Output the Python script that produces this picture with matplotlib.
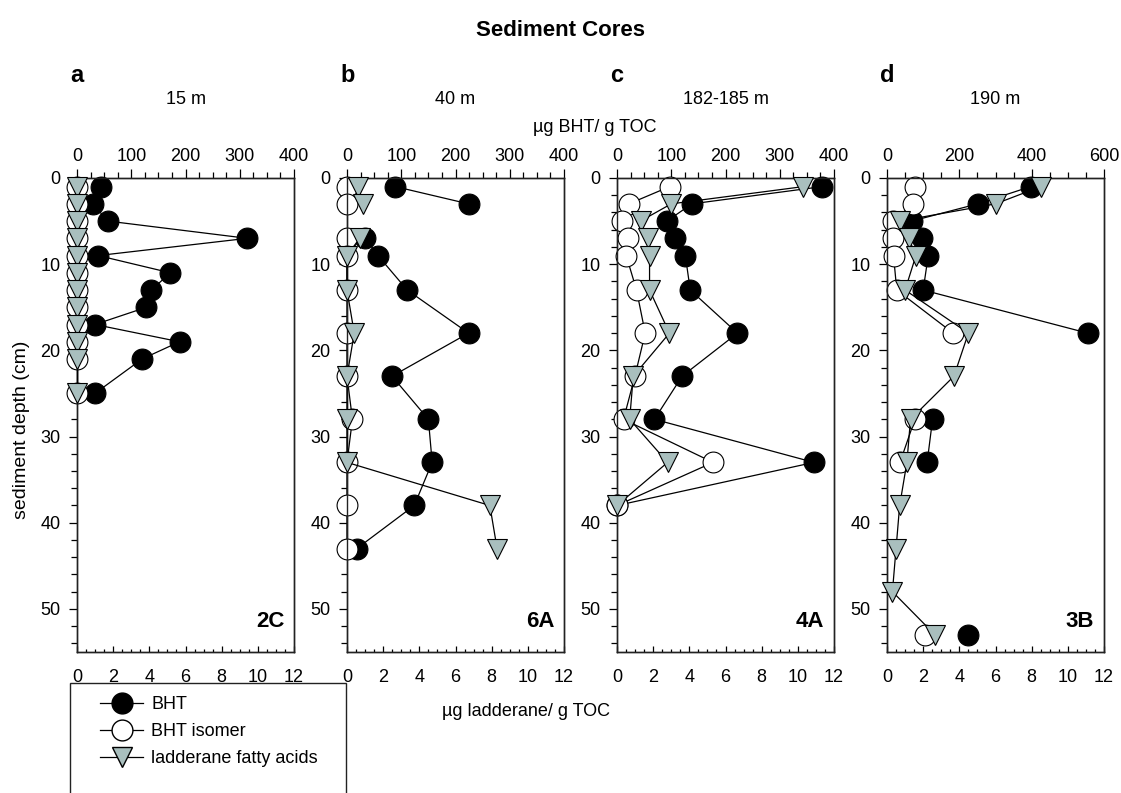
import numpy as np
import matplotlib
matplotlib.use("Agg")
import matplotlib.pyplot as plt
from matplotlib.lines import Line2D
from matplotlib.patches import Rectangle
from matplotlib.ticker import MultipleLocator

plt.rcParams["font.family"] = ["Liberation Sans", "DejaVu Sans"]

nan = np.nan

# ============================================================
# DATA
# ============================================================

panel_letters = ["a", "b", "c", "d"]
water_depths = ["15 m", "40 m", "182-185 m", "190 m"]
core_names = ["2C", "6A", "4A", "3B"]
bht_xmax = [400, 400, 400, 600]

# a - 15 m, core 2C
depth_a = [1, 3, 5, 7, 9, 11, 13, 15, 17, 19, 21, 25]
bht_a = [44, 29, 57, 314, 39, 172, 137, 128, 33, 189, 120, 33]
iso_a = [0, 0, 0, 0, 0, 0, 0, 0, 0, 0, 0, 0]
lad_a = [0, 0, 0, 0, 0, 0, 0, 0, 0, 0, 0, 0]

# b - 40 m, core 6A
depth_b = [1, 3, 5, 7, 9, 13, 18, 23, 28, 33, 38, 43]
bht_b = [89, 224, nan, 34, 57, 111, 224, 83, 150, 157, 124, 18]
iso_b = [0, 0, nan, 0, 0, 0, 0, 0, 10, 0, 0, 0]
lad_b = [0.6, 0.9, nan, 0.7, 0, 0, 0.4, 0, 0, 0, 7.9, 8.3]

# c - 182-185 m, core 4A
depth_c = [1, 3, 5, 7, 9, 13, 18, 23, 28, 33, 38]
bht_c = [378, 138, 92, 107, 126, 135, 222, 120, 69, 363, 0]
iso_c = [97, 22, 9, 21, 17, 36, 52, 33, 12, 177, 0]
lad_c = [10.3, 3.0, 1.3, 1.7, 1.8, 1.8, 2.9, 0.9, 0.7, 2.8, 0]

# d - 190 m, core 3B
depth_d = [1, 3, 5, 7, 9, 13, 18, 23, 28, 33, 38, 43, 48, 53]
bht_d = [397, 251, 68, 96, 114, 100, 555, nan, 126, 111, nan, nan, nan, 224]
iso_d = [77, 72, 16, 16, 18, 27, 183, nan, 77, 36, nan, nan, nan, 105]
lad_d = [8.5, 6.0, 0.7, 1.2, 1.6, 1.0, 4.5, 3.7, 1.3, 1.1, 0.7, 0.5, 0.3, 2.65]

depths = [depth_a, depth_b, depth_c, depth_d]
bht_all = [bht_a, bht_b, bht_c, bht_d]
iso_all = [iso_a, iso_b, iso_c, iso_d]
lad_all = [lad_a, lad_b, lad_c, lad_d]

# ============================================================
# LAYOUT (pixels of the 1121x793 canvas)
# ============================================================

W, H = 1121, 793
AX_LEFTS = [77, 347, 617, 887]
AX_W = 217
AX_TOP = 178
AX_BOT = 652

TRI_COLOR = "#a9bfbe"
MS = 15
LW = 0.9


def fx(px):
    return px / W


def fy(py):
    return 1 - py / H


def draw_panel(fig, i):
    left = AX_LEFTS[i]
    ax = fig.add_axes([fx(left), fy(AX_BOT), AX_W / W, (AX_BOT - AX_TOP) / H])
    ax_l = ax.twiny()

    d = depths[i]
    ax.plot(bht_all[i], d, "-o", color="black", mfc="black", mec="black",
            ms=MS, lw=LW, mew=0.8, clip_on=False, zorder=3)
    ax.plot(iso_all[i], d, "-o", color="black", mfc="white", mec="black",
            ms=MS, lw=LW, mew=0.8, clip_on=False, zorder=4)
    ax_l.plot(lad_all[i], d, "-v", color="black", mfc=TRI_COLOR, mec="black",
              ms=MS, lw=LW, mew=0.8, clip_on=False, zorder=5)

    ax.set_xlim(0, bht_xmax[i])
    ax.set_ylim(55, 0)
    ax_l.set_xlim(0, 12)

    # BHT axis on top
    ax.xaxis.tick_top()
    ax.xaxis.set_label_position("top")
    step = 200 if bht_xmax[i] > 400 else 100
    ax.xaxis.set_major_locator(MultipleLocator(step))
    ax.xaxis.set_minor_locator(MultipleLocator(step / 4))
    ax.tick_params(axis="x", which="major", direction="out", length=6.5,
                   width=0.9, labelsize=13, pad=3)
    ax.tick_params(axis="x", which="minor", direction="out", length=4, width=0.9)

    # depth axis
    ax.yaxis.set_major_locator(MultipleLocator(10))
    ax.yaxis.set_minor_locator(MultipleLocator(2))
    ax.tick_params(axis="y", which="major", direction="out", length=6,
                   width=0.9, labelsize=13, pad=6)
    ax.tick_params(axis="y", which="minor", direction="out", length=4, width=0.9)

    # ladderane axis at bottom
    ax_l.xaxis.tick_bottom()
    ax_l.xaxis.set_label_position("bottom")
    ax_l.xaxis.set_major_locator(MultipleLocator(2))
    ax_l.xaxis.set_minor_locator(MultipleLocator(0.5))
    ax_l.tick_params(axis="x", which="major", direction="in", length=4,
                     width=0.9, labelsize=13, pad=12)
    ax_l.tick_params(axis="x", which="minor", direction="in", length=2.5, width=0.9)

    for a in (ax, ax_l):
        for s in a.spines.values():
            s.set_linewidth(1.0)
            s.set_color("#222222")

    ax.text(0.955, 0.065, core_names[i], transform=ax.transAxes,
            ha="right", va="center", fontsize=16, weight="bold")

    # panel letter + water depth
    fig.text(fx(left - 7), fy(75), panel_letters[i], fontsize=17, weight="bold",
             ha="left", va="center")
    fig.text(fx(left + AX_W / 2), fy(100), water_depths[i], fontsize=13,
             ha="center", va="center")
    return ax


def main():
    fig = plt.figure(figsize=(W / 100, H / 100), dpi=100)

    fig.text(0.5, fy(30), "Sediment Cores", fontsize=16, weight="bold",
             ha="center", va="center")

    for i in range(4):
        draw_panel(fig, i)

    fig.text(fx(595), fy(127), "µg BHT/ g TOC", fontsize=13, ha="center", va="center")
    fig.text(fx(526), fy(712), "µg ladderane/ g TOC", fontsize=13,
             ha="center", va="center")
    fig.text(fx(22), fy(430), "sediment depth (cm)", fontsize=14, rotation=90,
             ha="center", va="center")

    # legend (box runs off the bottom of the page like the original)
    handles = [
        Line2D([], [], color="black", lw=LW, marker="o", mfc="black", mec="black", ms=MS),
        Line2D([], [], color="black", lw=LW, marker="o", mfc="white", mec="black", ms=MS),
        Line2D([], [], color="black", lw=LW, marker="v", mfc=TRI_COLOR, mec="black", ms=MS),
    ]
    labels = ["BHT", "BHT isomer", "ladderane fatty acids"]
    fig.legend(handles, labels, loc="upper left", bbox_to_anchor=(fx(100), fy(696)),
               frameon=False, fontsize=13, handlelength=2.4, handletextpad=0.45,
               labelspacing=0.55, borderaxespad=0, borderpad=0)
    fig.patches.append(Rectangle((fx(70), -0.05), fx(346) - fx(70), fy(683) + 0.05,
                                 transform=fig.transFigure, fill=False,
                                 edgecolor="#222222", linewidth=1.0))

    fig.savefig("out.png", dpi=100)
    plt.close(fig)


if __name__ == "__main__":
    main()
